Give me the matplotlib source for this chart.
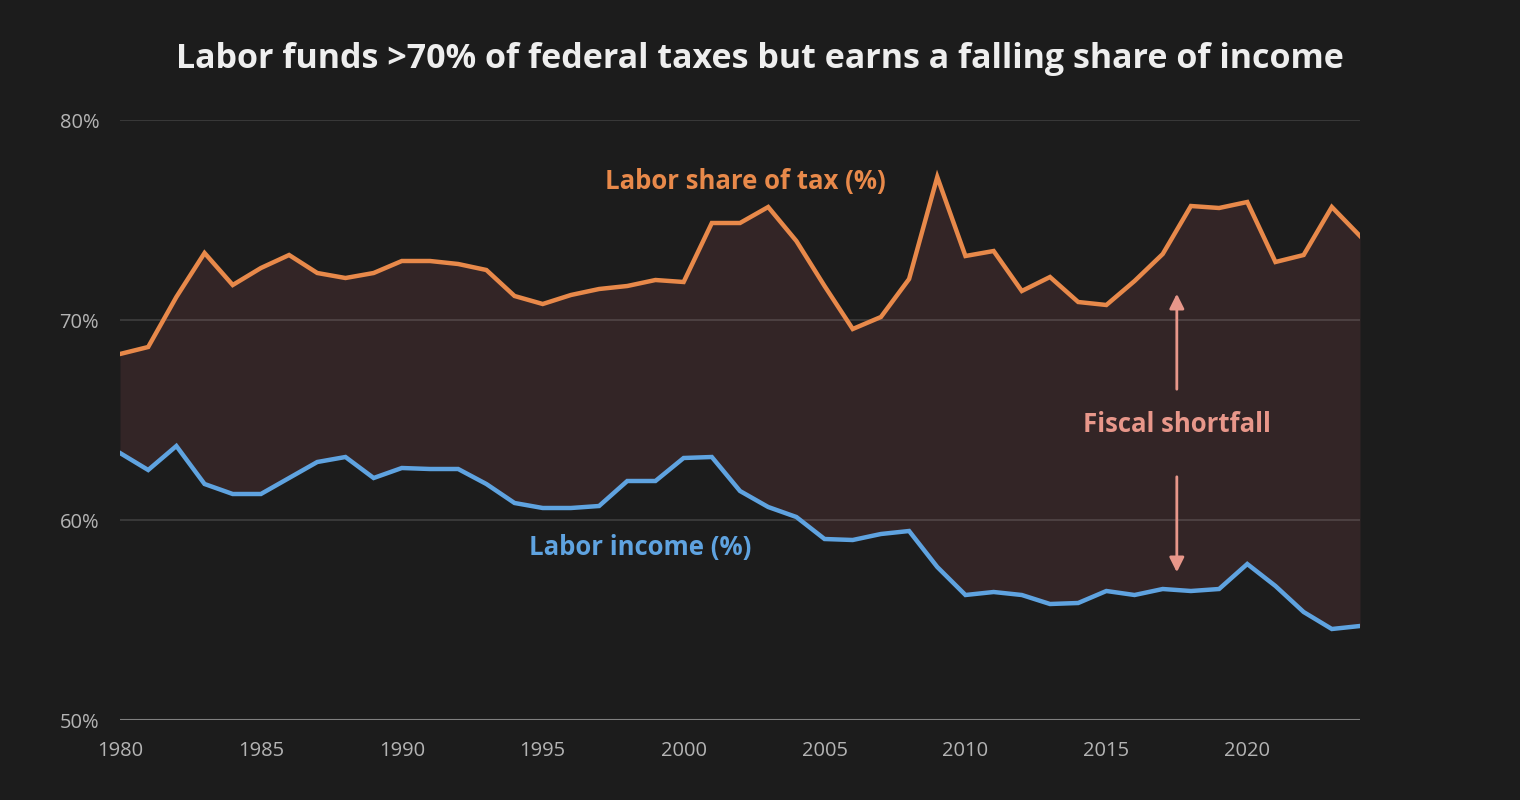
import matplotlib.pyplot as plt
import numpy as np

years = np.arange(1980, 2025)
labor_tax = [68.3, 68.65, 71.15, 73.35, 71.75, 72.6, 73.25, 72.35, 72.1, 72.35,
             72.95, 72.95, 72.8, 72.5, 71.2, 70.8, 71.25, 71.55, 71.7, 72.0,
             71.9, 74.85, 74.85, 75.65, 73.95, 71.7, 69.55, 70.15, 72.05, 77.15,
             73.2, 73.45, 71.45, 72.15, 70.9, 70.75, 71.95, 73.3, 75.7, 75.6,
             75.9, 72.9, 73.25, 75.65, 74.2]
labor_income = [63.35, 62.5, 63.7, 61.8, 61.3, 61.3, 62.1, 62.9, 63.15, 62.1,
                62.6, 62.55, 62.55, 61.8, 60.85, 60.6, 60.6, 60.7, 61.95, 61.95,
                63.1, 63.15, 61.45, 60.65, 60.15, 59.05, 59.0, 59.3, 59.45, 57.65,
                56.25, 56.4, 56.25, 55.8, 55.85, 56.45, 56.25, 56.55, 56.45, 56.55,
                57.8, 56.7, 55.4, 54.55, 54.7]
yticks = [50, 60, 70, 80]
xticks = [1980, 1985, 1990, 1995, 2000, 2005, 2010, 2015, 2020]

bg = '#1c1c1c'
orange = '#e8894a'
blue = '#5fa3e0'
salmon = '#e8978a'
font = ['Open Sans', 'DejaVu Sans']

fig = plt.figure(figsize=(15.2, 8), dpi=100, facecolor=bg)
ax = fig.add_axes([120 / 1520, 80 / 800, 1240 / 1520, 600 / 800])
ax.set_facecolor(bg)

ax.fill_between(years, labor_income, labor_tax, color='#332526', lw=0, zorder=1)
for t in yticks[1:]:
    ax.axhline(t, color='white', alpha=0.15, lw=1.2, zorder=2)
ax.axhline(50, color='#808080', lw=1.5, zorder=2)
ax.plot(years, labor_tax, color=orange, lw=3.2, zorder=3, solid_joinstyle='miter')
ax.plot(years, labor_income, color=blue, lw=3.2, zorder=3, solid_joinstyle='miter')

ax.text(2002.2, 76.95, 'Labor share of tax (%)', color=orange, fontsize=18.5,
        fontweight='bold', family=font, ha='center', va='center')
ax.text(1998.45, 58.65, 'Labor income (%)', color=blue, fontsize=18.5,
        fontweight='bold', family=font, ha='center', va='center')
ax.text(2017.5, 64.75, 'Fiscal shortfall', color=salmon, fontsize=18.5,
        fontweight='bold', family=font, ha='center', va='center')
ax.annotate('', xy=(2017.5, 71.45), xytext=(2017.5, 66.4),
            arrowprops=dict(arrowstyle='-|>', color=salmon, lw=2, mutation_scale=22))
ax.annotate('', xy=(2017.5, 57.25), xytext=(2017.5, 62.3),
            arrowprops=dict(arrowstyle='-|>', color=salmon, lw=2, mutation_scale=22))

ax.set_xlim(1980, 2024)
ax.set_ylim(50, 80)
ax.set_yticks(yticks)
ax.set_yticklabels([f'{t}%' for t in yticks])
ax.set_xticks(xticks)
for s in ax.spines.values():
    s.set_visible(False)
ax.tick_params(length=0, colors='#b4b4b4', labelsize=14.5)
ax.tick_params(axis='x', pad=15)
ax.tick_params(axis='y', pad=15)
for lab in ax.get_xticklabels() + ax.get_yticklabels():
    lab.set_family(font)

fig.text(760 / 1520, 1 - 59 / 800, 'Labor funds >70% of federal taxes but earns a falling share of income',
         color='#eeeeee', fontsize=24.5, fontweight='bold', family=font,
         ha='center', va='center')

fig.savefig('out.png', facecolor=bg)
